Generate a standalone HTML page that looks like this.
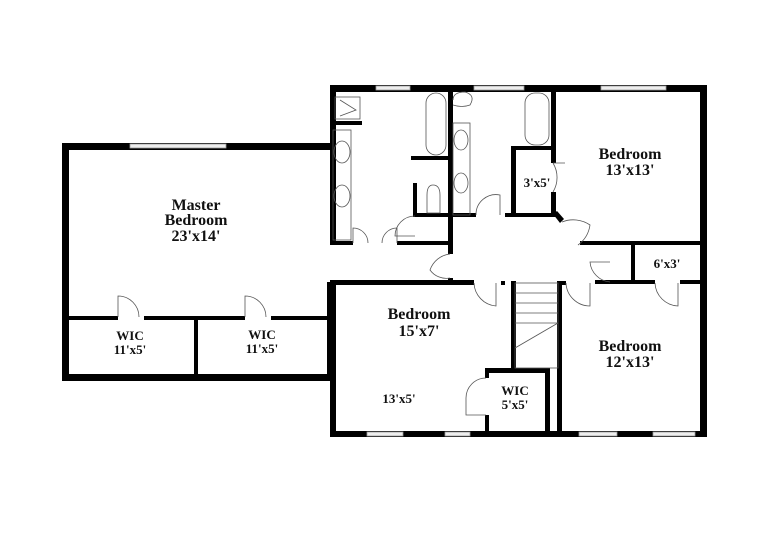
<!DOCTYPE html>
<html><head><meta charset="utf-8"><style>
html,body{margin:0;padding:0;background:#fff;}
svg{display:block}
text{font-family:"Liberation Serif",serif;font-weight:bold;fill:#111;text-anchor:middle}
</style></head><body>
<svg width="760" height="553" viewBox="0 0 760 553" xmlns="http://www.w3.org/2000/svg">
<rect width="760" height="553" fill="#fff"/>
<g fill="#000">
<rect x="62" y="143" width="272" height="7"/>
<rect x="62" y="143" width="7" height="238"/>
<rect x="62" y="374" width="272" height="7"/>
<rect x="68" y="316" width="50" height="4"/>
<rect x="144" y="316" width="101" height="4"/>
<rect x="271" y="316" width="59" height="4"/>
<rect x="194" y="316" width="4" height="62"/>
<rect x="327" y="282" width="7" height="99"/>
<rect x="330" y="85" width="377" height="7"/>
<rect x="330" y="85" width="6" height="160"/>
<rect x="330" y="241" width="23" height="4"/>
<rect x="397" y="241" width="55" height="4"/>
<rect x="333" y="121" width="29" height="4"/>
<rect x="448" y="85" width="5" height="169"/>
<rect x="448" y="278" width="5" height="6"/>
<rect x="411" y="156" width="39" height="4"/>
<rect x="413" y="183" width="4" height="34"/>
<rect x="413" y="213" width="63" height="4"/>
<rect x="505" y="213" width="50" height="4"/>
<rect x="511" y="147" width="5" height="70"/>
<rect x="511" y="146" width="44" height="4"/>
<rect x="551" y="85" width="5" height="78"/>
<rect x="551" y="192" width="5" height="25"/>
<polygon points="553,214 557,211 564,219 560,223"/>
<rect x="700" y="85" width="7" height="351"/>
<rect x="580" y="241" width="127" height="4"/>
<rect x="631" y="241" width="4" height="42"/>
<rect x="595" y="280" width="60" height="4"/>
<rect x="680" y="280" width="27" height="4"/>
<rect x="330" y="280" width="144" height="5"/>
<rect x="330" y="280" width="6" height="157"/>
<rect x="330" y="431" width="377" height="6"/>
<rect x="511" y="281" width="5" height="90"/>
<rect x="485" y="368" width="64" height="5"/>
<rect x="485" y="368" width="4" height="10"/>
<rect x="485" y="415" width="4" height="18"/>
<rect x="545" y="368" width="5" height="66"/>
<rect x="557" y="281" width="5" height="155"/>
<rect x="501" y="281" width="4" height="4"/>
<rect x="562" y="281" width="4" height="4"/>
</g>
<g fill="#eee" stroke="#999" stroke-width="0.8">
<rect x="130" y="144" width="96" height="4"/>
<rect x="376" y="86" width="34" height="4"/>
<rect x="474" y="86" width="50" height="4"/>
<rect x="601" y="86" width="65" height="4"/>
<rect x="367" y="432" width="36" height="4"/>
<rect x="445" y="432" width="25" height="4"/>
<rect x="579" y="432" width="38" height="4"/>
<rect x="653" y="432" width="42" height="4"/>
</g>
<g fill="none" stroke="#555" stroke-width="0.8">
<path d="M118 317 V296 A21 21 0 0 1 139 317"/>
<path d="M245 317 V296 A21 21 0 0 1 266 317"/>
<path d="M353 243 V228 A15 15 0 0 1 368 243 M397 243 V228 A15 15 0 0 0 382 243"/>
<path d="M415 216 A20 20 0 0 0 395 236 H415"/>
<path d="M476 215 A20 20 0 0 1 500 195 V215"/>
<path d="M553 163 A28 28 0 0 1 553 192 M553 163 H565"/>
<path d="M562 222 A30 30 0 0 1 590 225 A30 30 0 0 1 578 245"/>
<path d="M450 254 A24 24 0 0 0 430 270 A20 20 0 0 0 450 278"/>
<path d="M474 283 A24 24 0 0 0 496 306 V283"/>
<path d="M566 283 A24 24 0 0 0 590 306 V283"/>
<path d="M610 282 A22 22 0 0 1 590 262 H610"/>
<path d="M655 283 A24 24 0 0 0 678 306 V283"/>
<path d="M486 378 A20 20 0 0 0 466 398 V415 H486"/>
<rect x="335" y="97" width="25" height="22"/>
<path d="M340 100 L356 110 L340 116"/>
<rect x="333" y="130" width="18" height="110"/>
<ellipse cx="342" cy="152" rx="8" ry="11"/>
<ellipse cx="342" cy="196" rx="8" ry="11"/>
<rect x="426" y="93" width="20" height="62" rx="10"/>
<rect x="453" y="123" width="17" height="92"/>
<ellipse cx="461" cy="140" rx="7" ry="10"/>
<ellipse cx="461" cy="183" rx="7" ry="10"/>
<path d="M427 213 V195 Q427 185 433 185 Q440 185 440 195 V213 Z"/>
<path d="M453 100 Q453 92 465 92 Q476 95 470 105 Q462 108 453 105"/>
<rect x="525" y="93" width="24" height="52" rx="10"/>
<rect x="515" y="283" width="43" height="85"/>
<path d="M515 293 H558 M515 303 H558 M515 313 H558 M515 323 H558"/>
<path d="M515 348 L558 323"/>
</g>
<text x="196" y="210" font-size="16">Master</text>
<text x="196" y="225" font-size="16">Bedroom</text>
<text x="196" y="241" font-size="16">23'x14'</text>
<text x="130" y="340" font-size="13">WIC</text>
<text x="130" y="354" font-size="13">11'x5'</text>
<text x="262" y="339" font-size="13">WIC</text>
<text x="262" y="353" font-size="13">11'x5'</text>
<text x="630" y="159" font-size="16">Bedroom</text>
<text x="630" y="175" font-size="16">13'x13'</text>
<text x="537" y="187" font-size="13">3'x5'</text>
<text x="667" y="268" font-size="13">6'x3'</text>
<text x="419" y="319" font-size="16">Bedroom</text>
<text x="419" y="336" font-size="16">15'x7'</text>
<text x="399" y="403" font-size="13">13'x5'</text>
<text x="515" y="395" font-size="13">WIC</text>
<text x="515" y="409" font-size="13">5'x5'</text>
<text x="630" y="351" font-size="16">Bedroom</text>
<text x="630" y="367" font-size="16">12'x13'</text>
</svg>
</body></html>
